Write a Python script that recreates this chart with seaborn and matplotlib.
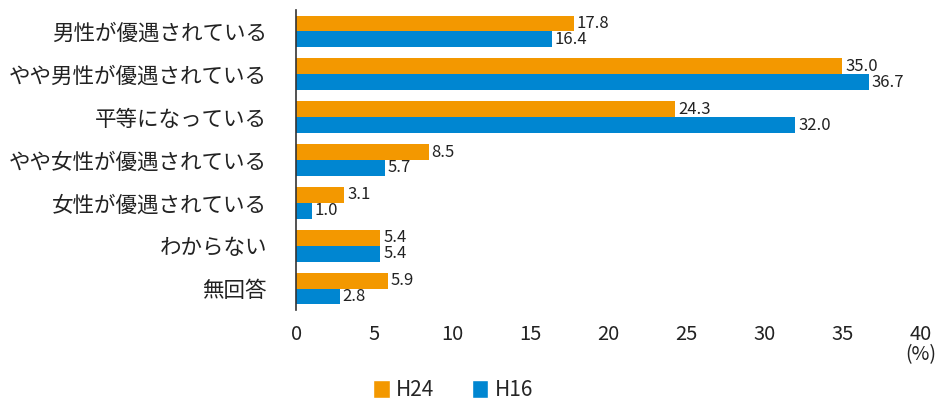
import pandas as pd
import matplotlib.pyplot as plt
import seaborn as sns
from matplotlib.patches import Patch

sns.set_theme(style="white")
plt.rcParams['font.family'] = ['Noto Sans CJK JP', 'DejaVu Sans']

# --- data ---
categories = ['男性が優遇されている', 'やや男性が優遇されている', '平等になっている',
              'やや女性が優遇されている', '女性が優遇されている', 'わからない', '無回答']
h24 = [17.8, 35.0, 24.3, 8.5, 3.1, 5.4, 5.9]
h16 = [16.4, 36.7, 32.0, 5.7, 1.0, 5.4, 2.8]
series = ['H24', 'H16']
colors = {'H24': '#F39800', 'H16': '#0086D1'}

df = pd.DataFrame({
    'cat': categories * 2,
    'val': h24 + h16,
    'year': ['H24'] * len(categories) + ['H16'] * len(categories),
})

fig = plt.figure(figsize=(9.4, 4.01), dpi=100)
ax = fig.add_axes([0.315, 0.227, 0.664, 0.748])

sns.barplot(data=df, y='cat', x='val', hue='year', hue_order=series,
            order=categories, palette=colors, orient='h', width=0.74,
            gap=0, saturation=1, legend=False, linewidth=0, ax=ax)

for cont in ax.containers:
    ax.bar_label(cont, fmt='%.1f', padding=2, fontsize=12, color='#222222')

ax.set_xlim(0, 40)
ax.set_ylim(6.5, -0.5)
ax.set_xticks(range(0, 41, 5))
ax.set_xlabel('')
ax.set_ylabel('')
ax.tick_params(axis='x', labelsize=14.5, length=0, pad=10, colors='#222222')
ax.tick_params(axis='y', labelsize=15.5, length=0, pad=21, colors='#222222')
for s in ['top', 'right', 'bottom']:
    ax.spines[s].set_visible(False)
ax.spines['left'].set_color('#333333')
ax.spines['left'].set_linewidth(1.2)
ax.grid(False)

fig.text(0.979, 0.115, '(%)', ha='center', va='center', fontsize=14, color='#222222')

# legend
handles = [Patch(facecolor=colors[s], label=s) for s in series]
fig.legend(handles=handles, loc='center', bbox_to_anchor=(0.482, 0.027), ncol=2,
           frameon=False, fontsize=15, handlelength=0.8, handleheight=1.0,
           handletextpad=0.3, columnspacing=1.8)

fig.savefig('out.png', dpi=100)
